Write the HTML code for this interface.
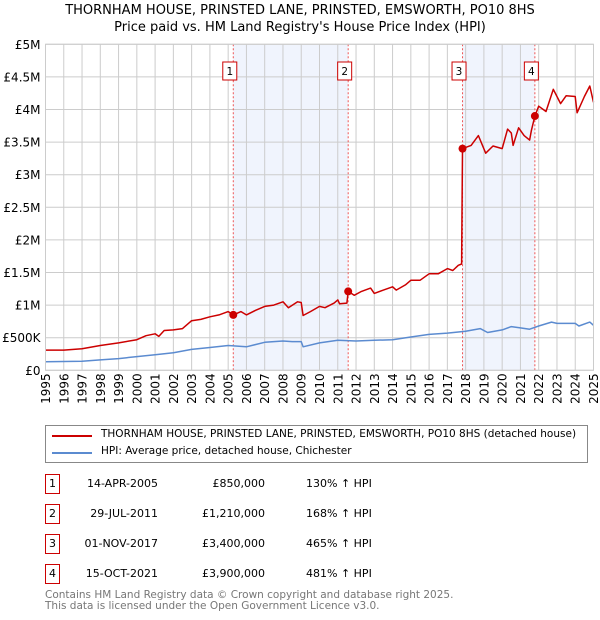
<!DOCTYPE html>
<html><head><meta charset="utf-8"><style>
body{margin:0;background:#fff;font-family:"DejaVu Sans","Liberation Sans",sans-serif;}
#wrap{position:relative;width:600px;height:620px;overflow:hidden}
.t{position:absolute;font-size:11px;color:#000;white-space:nowrap}
.box{position:absolute;width:13px;height:18px;border:1px solid #c00;font-size:11px;text-align:center;line-height:18px;background:#fff}
</style></head><body><div id="wrap">
<div class="t" style="left:0;width:600px;text-align:center;top:2px;font-size:13px;line-height:17px">THORNHAM HOUSE, PRINSTED LANE, PRINSTED, EMSWORTH, PO10 8HS<br>Price paid vs. HM Land Registry's House Price Index (HPI)</div>
<svg id="chart" width="600" height="420" style="position:absolute;left:0;top:0" font-family="DejaVu Sans, Liberation Sans, sans-serif" font-size="12"></svg>
<div style="position:absolute;left:45px;top:425px;width:541px;height:36px;border:1px solid #888">
 <div style="position:absolute;left:6px;top:9px;width:40px;height:2px;background:#c00"></div>
 <div class="t" style="left:55px;top:2px;font-size:10.5px">THORNHAM HOUSE, PRINSTED LANE, PRINSTED, EMSWORTH, PO10 8HS (detached house)</div>
 <div style="position:absolute;left:6px;top:26px;width:40px;height:2px;background:#5b8bd0"></div>
 <div class="t" style="left:55px;top:19px;font-size:10.5px">HPI: Average price, detached house, Chichester</div>
</div>
<div id="table"></div>
<div class="t" style="left:45px;top:590px;font-size:10.5px;color:#777;line-height:10.5px">Contains HM Land Registry data © Crown copyright and database right 2025.<br>This data is licensed under the Open Government Licence v3.0.</div>
</div>
<script>
const redX=[1995,1996,1997,1998,1999,2000,2000.5,2001,2001.2,2001.5,2002,2002.5,2003,2003.5,2004,2004.5,2005,2005.28,2005.7,2006,2006.5,2007,2007.5,2008,2008.3,2008.8,2009,2009.1,2009.5,2010,2010.3,2010.8,2011,2011.1,2011.5,2011.57,2011.9,2012.3,2012.8,2013,2013.5,2014,2014.2,2014.7,2015,2015.5,2016,2016.5,2017,2017.3,2017.6,2017.78,2017.83,2018.3,2018.7,2019.1,2019.5,2020,2020.3,2020.5,2020.6,2020.9,2021.2,2021.5,2021.6,2021.79,2022,2022.4,2022.8,2023.2,2023.5,2024,2024.1,2024.5,2024.8,2025];
const redV=[310,310,330,380,420,470,530,560,520,610,620,640,760,780,820,850,900,850,900,850,920,980,1000,1050,960,1050,1040,840,900,980,960,1030,1080,1020,1030,1210,1150,1210,1260,1180,1230,1280,1230,1310,1380,1380,1480,1480,1560,1530,1610,1630,3400,3450,3600,3330,3440,3400,3700,3640,3450,3720,3600,3530,3680,3900,4050,3970,4310,4090,4210,4200,3950,4200,4360,4110];
const hpiX=[1995,1997,1998,1999,2000,2001,2002,2003,2004,2005,2006,2007,2008,2008.5,2009,2009.1,2010,2011,2012,2013,2014,2015,2016,2017,2018,2018.8,2019.2,2020,2020.5,2021,2021.5,2022,2022.7,2023,2024,2024.2,2024.8,2025];
const hpiV=[130,140,160,180,210,240,270,320,350,380,360,430,450,440,440,360,420,460,450,460,470,510,550,570,600,640,580,620,670,650,630,680,740,720,720,680,740,690];
const saleX=[2005.28,2011.57,2017.83,2021.79];
const saleV=[850,1210,3400,3900];
const saleDate=["14-APR-2005","29-JUL-2011","01-NOV-2017","15-OCT-2021"];
const salePrice=["£850,000","£1,210,000","£3,400,000","£3,900,000"];
const salePct=["130% ↑ HPI","168% ↑ HPI","465% ↑ HPI","481% ↑ HPI"];
const yTicks=[0,500,1000,1500,2000,2500,3000,3500,4000,4500,5000];
const yLabels=["£0","£500K","£1M","£1.5M","£2M","£2.5M","£3M","£3.5M","£4M","£4.5M","£5M"];
const L=45.5,R=593.5,T=44.3,B=370.3;
const sx=y=>L+(y-1995)/30*(R-L);
const sy=v=>B-v/5000*(B-T);
const NS="http://www.w3.org/2000/svg";
const svg=document.getElementById('chart');
function mk(tag,attrs){const e=document.createElementNS(NS,tag);for(const k in attrs)e.setAttribute(k,attrs[k]);svg.appendChild(e);return e;}
[[0,1],[2,3]].forEach((p,i)=>{const r=mk('rect',{x:sx(saleX[p[0]]),y:T,width:sx(saleX[p[1]])-sx(saleX[p[0]]),height:B-T,fill:'#f0f4fd'});

});
for(let y=1995;y<=2025;y++){const l=mk('line',{x1:sx(y),x2:sx(y),y1:T,y2:B,stroke:'#ccc','stroke-width':1});


const t=mk('text',{x:0,y:0,transform:`translate(${sx(y)+4.5},${B+3}) rotate(-90)`,'text-anchor':'end'});t.textContent=y;

}
yTicks.forEach((v,i)=>{const l=mk('line',{x1:L,x2:R,y1:sy(v),y2:sy(v),stroke:'#ccc','stroke-width':1});


const t=mk('text',{x:L-5,y:sy(v)+4.5,'text-anchor':'end'});t.textContent=yLabels[i];

});
saleX.forEach((x,i)=>{const l=mk('line',{x1:sx(x),x2:sx(x),y1:T,y2:B,stroke:'#e55','stroke-width':1,'stroke-dasharray':'2,2'});

});
function path(xs,vs,col,name){const d=xs.map((x,i)=>(i?'L':'M')+sx(x).toFixed(1)+','+sy(vs[i]).toFixed(1)).join('');
const p=mk('path',{d:d,fill:'none',stroke:col,'stroke-width':1.5,'stroke-linejoin':'round'});

}
path(hpiX,hpiV,'#5b8bd0','hpi-line');
path(redX,redV,'#cc0000','property-price-line');
saleX.forEach((x,i)=>{const c=mk('circle',{cx:sx(x),cy:sy(saleV[i]),r:4,fill:'#cc0000'});


const r=mk('rect',{x:sx(x)-10.5,y:62,width:14,height:18,fill:'#fff',stroke:'#c00'});


const t=mk('text',{x:sx(x)-3.5,y:75,'text-anchor':'middle','font-size':10.5});t.textContent=i+1;

});
mk('rect',{x:L,y:T,width:R-L,height:B-T,fill:'none',stroke:'#ccc'});
const tb=document.getElementById('table');
saleDate.forEach((d,i)=>{const y=474+i*30;const row=document.createElement('div');


row.innerHTML=`<div class="box" style="left:45px;top:${y}px">${i+1}</div>
<div class="t" style="left:70px;width:88px;text-align:right;top:${y+3}px">${d}</div>
<div class="t" style="left:170px;width:95px;text-align:right;top:${y+3}px">${salePrice[i]}</div>
<div class="t" style="left:306px;top:${y+3}px">${salePct[i]}</div>`;
tb.appendChild(row);});
</script></body></html>
